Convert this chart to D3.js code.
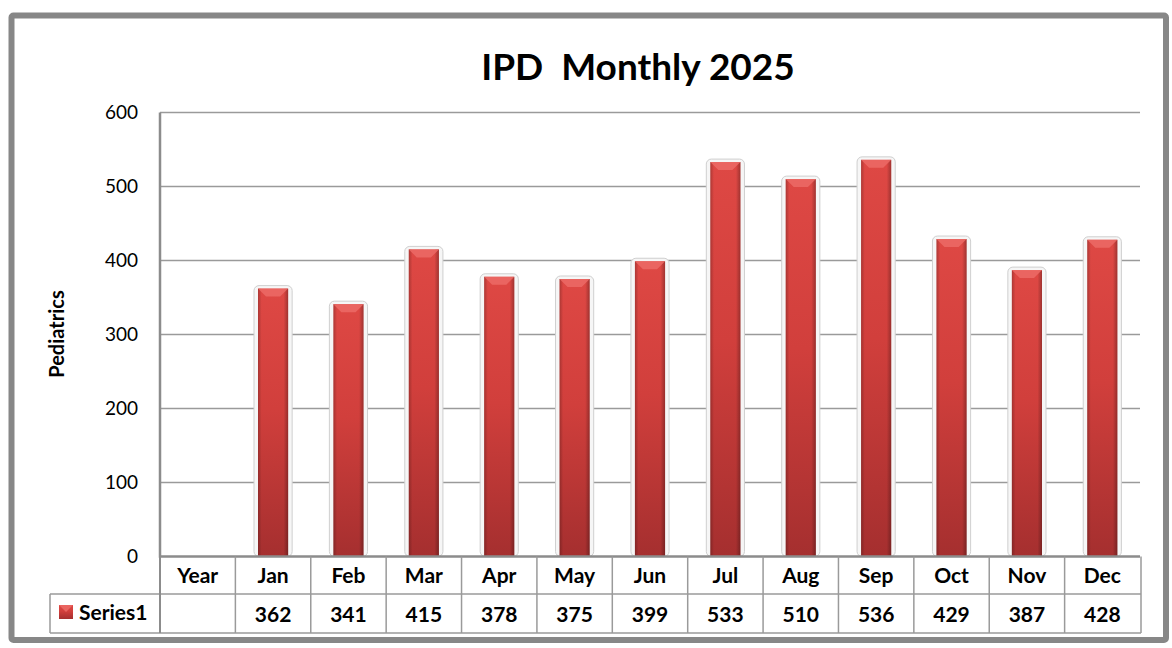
<!DOCTYPE html>
<html>
<head>
<meta charset="utf-8">
<script src="https://d3js.org/d3.v7.min.js"></script>
<style>
  body { margin: 0; background: #fff; font-family: Lato, 'Noto Sans', sans-serif; }
  svg { display: block; }
</style>
</head>
<body>
<svg width="1172" height="648"></svg>
<script>
    // chart data
    var categories = ["Year", "Jan", "Feb", "Mar", "Apr", "May", "Jun", "Jul", "Aug", "Sep", "Oct", "Nov", "Dec"];
    var series1 = [null, 362, 341, 415, 378, 375, 399, 533, 510, 536, 429, 387, 428];
    var yTicks = [0, 100, 200, 300, 400, 500, 600];
    var seriesName = "Series1";
    var title = "IPD  Monthly 2025";
    var yLabel = "Pediatrics";

    var svg = d3.select("svg");

    var plotLeft = 160, plotRight = 1140, plotTop = 112.5, plotBottom = 556.5;
    var row1 = 594, row2 = 633, legendLeft = 50;

    var x = d3.scaleBand().domain(categories).range([plotLeft, plotRight]).padding(0);
    var y = d3.scaleLinear().domain([0, 600]).range([plotBottom, plotTop]);

    var defs = svg.append("defs");
    var vg = defs.append("linearGradient").attr("id", "barV")
        .attr("x1", 0).attr("y1", 0).attr("x2", 0).attr("y2", 1);
    vg.append("stop").attr("offset", "0%").attr("stop-color", "#de4844");
    vg.append("stop").attr("offset", "45%").attr("stop-color", "#d13f3c");
    vg.append("stop").attr("offset", "100%").attr("stop-color", "#a52f2f");
    var hg = defs.append("linearGradient").attr("id", "barH")
        .attr("x1", 0).attr("y1", 0).attr("x2", 1).attr("y2", 0);
    hg.append("stop").attr("offset", "0%").attr("stop-color", "#000").attr("stop-opacity", 0.22);
    hg.append("stop").attr("offset", "12%").attr("stop-color", "#000").attr("stop-opacity", 0);
    hg.append("stop").attr("offset", "85%").attr("stop-color", "#000").attr("stop-opacity", 0);
    hg.append("stop").attr("offset", "100%").attr("stop-color", "#000").attr("stop-opacity", 0.28);

    // outer frame
    svg.append("rect")
        .attr("x", 11.5).attr("y", 15.5)
        .attr("width", 1154.5).attr("height", 624.5)
        .attr("rx", 2)
        .attr("fill", "#fff").attr("stroke", "#878787").attr("stroke-width", 6);

    // title
    svg.append("text")
        .attr("x", 638).attr("y", 80)
        .attr("text-anchor", "middle")
        .attr("font-size", 37).attr("font-weight", "bold")
        .style("white-space", "pre")
        .attr("xml:space", "preserve")
        .text(title);

    // gridlines
    svg.append("g").selectAll("line")
        .data(yTicks.filter(function(d) { return d > 0; }))
        .enter().append("line")
        .attr("x1", plotLeft).attr("x2", plotRight)
        .attr("y1", function(d) { return y(d); })
        .attr("y2", function(d) { return y(d); })
        .attr("stroke", "#9a9a9a").attr("stroke-width", 1.5);

    // y tick labels
    svg.append("g").selectAll("text")
        .data(yTicks)
        .enter().append("text")
        .attr("x", 138)
        .attr("y", function(d) { return y(d) + 6; })
        .attr("text-anchor", "end")
        .attr("font-size", 19)
        .text(function(d) { return d; });

    // y label
    svg.append("text")
        .attr("transform", "translate(64,334) rotate(-90)")
        .attr("text-anchor", "middle")
        .attr("font-size", 20).attr("font-weight", "bold")
        .text(yLabel);

    // bars
    var bw = x.bandwidth() * 0.4;
    var bars = svg.append("g").selectAll("g")
        .data(categories.map(function(c, i) { return { c: c, v: series1[i] }; })
            .filter(function(d) { return d.v != null; }))
        .enter().append("g");

    bars.append("rect")
        .attr("x", function(d) { return x(d.c) + (x.bandwidth() - bw) / 2 - 4; })
        .attr("y", function(d) { return y(d.v) - 3; })
        .attr("width", bw + 8)
        .attr("height", function(d) { return plotBottom - y(d.v) + 3; })
        .attr("rx", 5)
        .attr("fill", "#f6f6f6").attr("stroke", "#cfcfcf").attr("stroke-width", 1);

    bars.append("rect")
        .attr("x", function(d) { return x(d.c) + (x.bandwidth() - bw) / 2; })
        .attr("y", function(d) { return y(d.v); })
        .attr("width", bw)
        .attr("height", function(d) { return plotBottom - y(d.v); })
        .attr("fill", "url(#barV)");

    bars.append("rect")
        .attr("x", function(d) { return x(d.c) + (x.bandwidth() - bw) / 2; })
        .attr("y", function(d) { return y(d.v); })
        .attr("width", bw)
        .attr("height", function(d) { return plotBottom - y(d.v); })
        .attr("fill", "url(#barH)");

    // top bevel
    bars.append("path")
        .attr("d", function(d) {
            var x0 = x(d.c) + (x.bandwidth() - bw) / 2, y0 = y(d.v);
            return "M" + x0 + "," + y0 + "H" + (x0 + bw) + "L" + (x0 + bw - 8) + "," + (y0 + 8) +
                "H" + (x0 + 8) + "Z";
        })
        .attr("fill", "#ec6b66").attr("opacity", 0.85);

    // plot axes (left & bottom)
    svg.append("path")
        .attr("d", "M" + plotLeft + "," + plotTop + "V" + plotBottom + "H" + plotRight)
        .attr("fill", "none").attr("stroke", "#8c8c8c").attr("stroke-width", 2.5);

    // data table
    var grid = svg.append("g").attr("stroke", "#9a9a9a").attr("stroke-width", 1.5);
    grid.append("line").attr("x1", legendLeft).attr("x2", plotRight + 1).attr("y1", row1).attr("y2", row1);
    grid.append("line").attr("x1", legendLeft).attr("x2", plotRight + 1).attr("y1", row2).attr("y2", row2);
    grid.append("line").attr("x1", legendLeft).attr("x2", legendLeft).attr("y1", row1).attr("y2", row2);
    grid.selectAll(".col")
        .data(categories.slice(1).concat(["__end"]))
        .enter().append("line")
        .attr("x1", function(d) { return d === "__end" ? plotRight + 1 : x(d); })
        .attr("x2", function(d) { return d === "__end" ? plotRight + 1 : x(d); })
        .attr("y1", plotBottom).attr("y2", row2);
    grid.append("line").attr("x1", plotLeft).attr("x2", plotLeft).attr("y1", plotBottom).attr("y2", row2)
        .attr("stroke", "#8c8c8c").attr("stroke-width", 2);

    svg.append("g").selectAll("text")
        .data(categories)
        .enter().append("text")
        .attr("x", function(d) { return x(d) + x.bandwidth() / 2; })
        .attr("y", 583)
        .attr("text-anchor", "middle")
        .attr("font-size", 21).attr("font-weight", "bold")
        .text(function(d) { return d; });

    svg.append("g").selectAll("text")
        .data(categories.map(function(c, i) { return { c: c, v: series1[i] }; }))
        .enter().append("text")
        .attr("x", function(d) { return x(d.c) + x.bandwidth() / 2; })
        .attr("y", 622)
        .attr("text-anchor", "middle")
        .attr("font-size", 21).attr("font-weight", "bold")
        .text(function(d) { return d.v == null ? "" : d.v; });

    // legend key
    svg.append("rect").attr("x", 59).attr("y", 605).attr("width", 14).attr("height", 14)
        .attr("fill", "url(#barV)");
    svg.append("path").attr("d", "M59,605H73L66,612Z").attr("fill", "#ec6b66").attr("opacity", 0.85);
    svg.append("text").attr("x", 79).attr("y", 620)
        .attr("font-size", 21).attr("font-weight", "bold")
        .text(seriesName);
</script>
</body>
</html>
